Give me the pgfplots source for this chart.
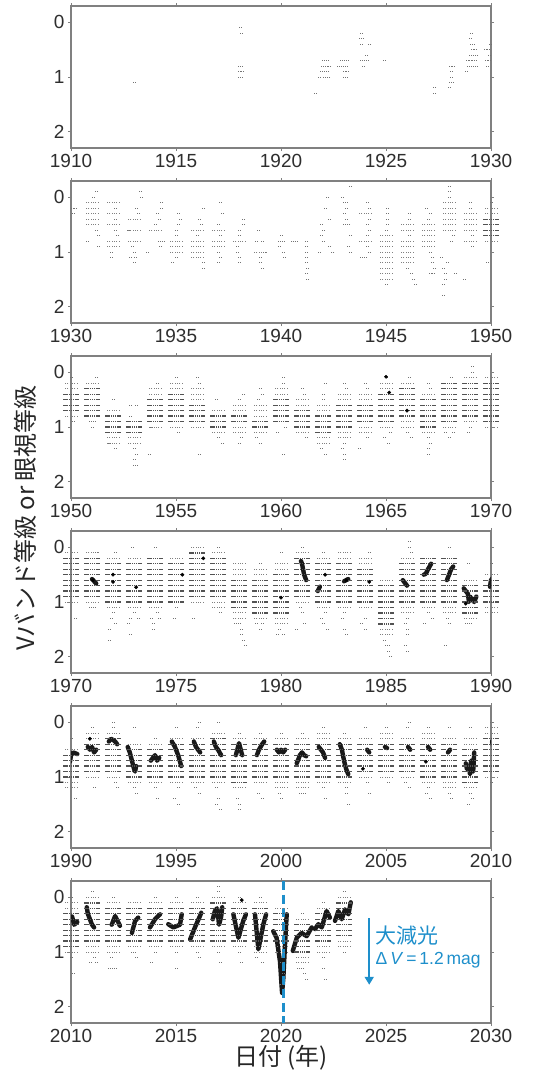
\documentclass[border=0pt]{standalone}
\usepackage{pgfplots}
\pgfplotsset{compat=1.18}
\usepackage{pgfplotstable}
\usetikzlibrary{plotmarks,arrows.meta}
\usepackage{fontspec}
\setmainfont{Liberation Sans}
\newfontfamily\jp{Noto Sans CJK JP}
\definecolor{frame}{HTML}{808080}
\definecolor{ablue}{HTML}{1E8FCB}
\definecolor{tk}{HTML}{2E2E2E}

% dense visual estimates (season centre, magnitude level)
\pgfplotstableread[row sep=\\]{x y\\
1950 .4\\1950 .5\\1950 .6\\1950 .7\\
1951 .3\\1951 .4\\1951 .5\\1951 .6\\1951 .7\\1951 .8\\
1952 .8\\1952 .9\\1952 1\\1952 1.1\\
1953 .9\\1953 1\\1953 1.1\\
1954 .5\\1954 .6\\1954 .7\\1954 .8\\1954 .9\\
1955 .4\\1955 .5\\1955 .6\\1955 .7\\1955 .8\\1955 .9\\
1956 .6\\1956 .7\\1956 .8\\1956 .9\\
1957 .8\\1957 .9\\1957 1\\
1958 .8\\1958 .9\\
1959 .9\\1959 1\\
1960 .5\\1960 .6\\1960 .7\\1960 .8\\1960 .9\\
1961 .7\\1961 .8\\1961 .9\\1961 1\\
1962 .8\\1962 .9\\1962 1\\1962 1.1\\
1963 .6\\1963 .7\\1963 .8\\1963 .9\\1963 1\\
1964 .6\\1964 .7\\1964 .8\\1964 .9\\
1965 .4\\1965 .5\\1965 .6\\1965 .7\\1965 .8\\1965 .9\\
1966 .3\\1966 .4\\1966 .5\\1966 .6\\1966 .7\\1966 .8\\
1967 .5\\1967 .6\\1967 .7\\1967 .8\\1967 .9\\1967 1\\
1968 .2\\1968 .3\\1968 .4\\1968 .5\\1968 .6\\1968 .7\\1968 .8\\1968 .9\\
1969 .2\\1969 .3\\1969 .4\\1969 .5\\1969 .6\\1969 .7\\1969 .8\\
1970 .2\\1970 .3\\1970 .4\\1970 .5\\1970 .6\\1970 .7\\1970 .8\\1970 .9\\
1971 .2\\1971 .3\\1971 .4\\1971 .5\\1971 .6\\1971 .7\\1971 .8\\1971 .9\\
1972 .3\\1972 .4\\1972 .5\\1972 .6\\1972 .7\\1972 .8\\1972 .9\\1972 1\\
1973 .3\\1973 .4\\1973 .5\\1973 .6\\1973 .7\\1973 .8\\1973 .9\\1973 1\\
1974 .2\\1974 .3\\1974 .4\\1974 .5\\1974 .6\\1974 .7\\1974 .8\\1974 .9\\1974 1\\
1975 .3\\1975 .4\\1975 .5\\1975 .6\\1975 .7\\1975 .8\\1975 .9\\1975 1\\
1976 .1\\1976 .2\\1976 .3\\1976 .4\\1976 .5\\1976 .6\\1976 .7\\1976 .8\\1976 .9\\
1977 .2\\1977 .3\\1977 .4\\1977 .5\\1977 .6\\1977 .7\\1977 .8\\1977 .9\\
1978 .6\\1978 .7\\1978 .8\\1978 .9\\1978 1\\1978 1.1\\
1979 .6\\1979 .7\\1979 .8\\1979 .9\\1979 1\\1979 1.1\\1979 1.2\\
1980 .5\\1980 .6\\1980 .7\\1980 .8\\1980 .9\\1980 1\\1980 1.1\\1980 1.2\\
1981 .2\\1981 .3\\1981 .4\\1981 .5\\1981 .6\\1981 .7\\1981 .8\\1981 .9\\
1982 .3\\1982 .4\\1982 .5\\1982 .6\\1982 .7\\1982 .8\\1982 .9\\1982 1\\
1983 .3\\1983 .4\\1983 .5\\1983 .6\\1983 .7\\1983 .8\\1983 .9\\1983 1\\
1984 .4\\1984 .5\\1984 .6\\1984 .7\\1984 .8\\1984 .9\\1984 1\\
1985 .7\\1985 .8\\1985 .9\\1985 1\\1985 1.1\\1985 1.2\\1985 1.3\\1985 1.4\\
1986 .3\\1986 .4\\1986 .5\\1986 .6\\1986 .7\\1986 .8\\1986 .9\\1986 1\\
1987 .2\\1987 .3\\1987 .4\\1987 .5\\1987 .6\\1987 .7\\1987 .8\\1987 .9\\1987 1\\
1988 .2\\1988 .3\\1988 .4\\1988 .5\\1988 .6\\1988 .7\\1988 .8\\1988 .9\\1988 1\\
1989 .7\\1989 .8\\1989 .9\\1989 1\\1989 1.1\\1989 1.2\\
1990 .6\\1990 .7\\1990 .8\\1990 .9\\1990 1\\
1991 .4\\1991 .5\\1991 .6\\1991 .7\\1991 .8\\1991 .9\\
1992 .3\\1992 .4\\1992 .5\\1992 .6\\1992 .7\\1992 .8\\1992 .9\\
1993 .5\\1993 .6\\1993 .7\\1993 .8\\1993 .9\\1993 1\\
1994 .5\\1994 .6\\1994 .7\\1994 .8\\1994 .9\\1994 1\\
1995 .4\\1995 .5\\1995 .6\\1995 .7\\1995 .8\\1995 .9\\1995 1\\
1996 .4\\1996 .5\\1996 .6\\1996 .7\\1996 .8\\1996 .9\\1996 1\\
1997 .3\\1997 .4\\1997 .5\\1997 .6\\1997 .7\\1997 .8\\1997 .9\\1997 1\\
1998 .4\\1998 .5\\1998 .6\\1998 .7\\1998 .8\\1998 .9\\1998 1\\1998 1.1\\
1999 .4\\1999 .5\\1999 .6\\1999 .7\\1999 .8\\1999 .9\\1999 1\\
2000 .4\\2000 .5\\2000 .6\\2000 .7\\2000 .8\\2000 .9\\2000 1\\
2001 .4\\2001 .5\\2001 .6\\2001 .7\\2001 .8\\2001 .9\\2001 1\\
2002 .4\\2002 .5\\2002 .6\\2002 .7\\2002 .8\\2002 .9\\2002 1\\
2003 .4\\2003 .5\\2003 .6\\2003 .7\\2003 .8\\2003 .9\\2003 1\\
2004 .4\\2004 .5\\2004 .6\\2004 .7\\2004 .8\\2004 .9\\
2005 .4\\2005 .5\\2005 .6\\2005 .7\\2005 .8\\2005 .9\\
2006 .4\\2006 .5\\2006 .6\\2006 .7\\2006 .8\\2006 .9\\
2007 .4\\2007 .5\\2007 .6\\2007 .7\\2007 .8\\2007 .9\\2007 1\\
2008 .4\\2008 .5\\2008 .6\\2008 .7\\2008 .8\\2008 .9\\2008 1\\
2009 .5\\2009 .6\\2009 .7\\2009 .8\\2009 .9\\2009 1\\2009 1.1\\
2010 .3\\2010 .4\\2010 .5\\2010 .6\\2010 .7\\2010 .8\\2010 .9\\
2011 .1\\2011 .2\\2011 .3\\2011 .4\\2011 .5\\2011 .6\\2011 .7\\2011 .8\\
2012 .2\\2012 .3\\2012 .4\\2012 .5\\2012 .6\\2012 .7\\2012 .8\\
2013 .2\\2013 .3\\2013 .4\\2013 .5\\2013 .6\\2013 .7\\2013 .8\\
2014 .2\\2014 .3\\2014 .4\\2014 .5\\2014 .6\\2014 .7\\2014 .8\\
2015 .2\\2015 .3\\2015 .4\\2015 .5\\2015 .6\\2015 .7\\2015 .8\\
2016 .2\\2016 .3\\2016 .4\\2016 .5\\2016 .6\\2016 .7\\2016 .8\\
2017 .1\\2017 .2\\2017 .3\\2017 .4\\2017 .5\\2017 .6\\2017 .7\\2017 .8\\
2018 .2\\2018 .3\\2018 .4\\2018 .5\\2018 .6\\2018 .7\\2018 .8\\
2019 .2\\2019 .3\\2019 .4\\2019 .5\\2019 .6\\2019 .7\\2019 .8\\
2020 .3\\2020 .4\\2020 .5\\2020 .6\\2020 .7\\2020 .8\\
2021 .5\\2021 .6\\2021 .7\\2021 .8\\2021 .9\\2021 1\\
2022 .3\\2022 .4\\2022 .5\\2022 .6\\2022 .7\\2022 .8\\
2023 .1\\2023 .2\\2023 .3\\2023 .4\\2023 .5\\2023 .6\\2023 .7\\
}\Dense

% medium-density levels
\pgfplotstableread[row sep=\\]{x y\\
1931 .1\\1931 .2\\1931 .3\\1931 .4\\1931 .5\\
1932 .1\\1932 .3\\1932 .5\\1932 .8\\1932 .9\\
1933 .4\\1933 .6\\1933 .8\\
1934 .6\\
1935 .8\\1935 .9\\1935 1\\
1936 .6\\1936 .8\\1936 .9\\1936 1\\1936 1.1\\
1937 .6\\1937 .8\\1937 .9\\
1938 .8\\
1939 1\\
1944 .3\\1944 .8\\
1945 .7\\1945 .8\\1945 .9\\1945 1\\1945 1.1\\1945 1.2\\1945 1.3\\1945 1.4\\1945 1.5\\
1946 .5\\1946 .6\\1946 .8\\1946 .9\\1946 1\\1946 1.1\\1946 1.2\\
1947 .5\\1947 .6\\1947 .7\\1947 .8\\1947 .9\\
1948 .1\\1948 .2\\1948 .3\\1948 .4\\1948 .5\\1948 .6\\
1949 .3\\1949 .4\\1949 .5\\1949 .6\\1949 .8\\
1950 .2\\1950 .3\\1950 .8\\
1951 .2\\
1952 .7\\1952 1.2\\1952 1.3\\
1953 1.2\\1953 1.3\\
1954 .3\\1954 .4\\1954 1\\
1955 .2\\1955 .3\\1955 1\\
1956 .3\\1956 .4\\1956 .5\\1956 1\\
1957 .7\\1957 1.1\\
1958 .6\\1958 .7\\1958 1\\1958 1.1\\
1959 .6\\1959 .7\\1959 .8\\1959 1.1\\
1960 .3\\1960 .4\\
1961 .5\\1961 .6\\1961 1.1\\
1962 .6\\1962 .7\\1962 1.2\\1962 1.3\\
1963 .4\\1963 .5\\1963 1.1\\1963 1.2\\
1964 .4\\1964 .5\\1964 1\\1964 1.1\\
1965 .2\\1965 .3\\1965 1\\
1966 .2\\1966 .9\\1966 1\\
1967 .4\\1967 1.1\\
1968 1\\
1969 .1\\1969 .9\\
1970 .1\\1970 1\\
1971 .1\\1971 1\\
1972 .2\\1972 1.1\\
1973 .2\\1973 1.1\\
1974 1.1\\
1975 .2\\
1976 0\\1976 1\\
1977 .1\\1977 1\\1977 1.1\\
1978 .3\\1978 .4\\1978 .5\\1978 1.2\\1978 1.3\\
1979 .4\\1979 .5\\1979 1.3\\
1980 .3\\1980 .4\\1980 1.3\\1980 1.4\\
1981 .1\\1981 1\\
1982 .2\\1982 1.1\\
1983 .1\\1983 .2\\1983 1.1\\
1984 .2\\1984 .3\\1984 1.1\\
1985 .6\\1985 1.5\\1985 1.6\\
1986 .2\\1986 1.1\\1986 1.2\\
1987 1.1\\
1988 1.1\\1988 1.2\\
1989 .6\\1989 1.3\\
1990 .5\\1990 1.1\\1990 1.2\\
1991 .2\\1991 .3\\1991 1\\
1992 .2\\1992 1\\
1993 .4\\1993 1.1\\
1994 .4\\1994 1.1\\
1995 .3\\1995 1.1\\
1996 .3\\1996 1.1\\
1997 .2\\1997 1.1\\
1998 .3\\1998 1.2\\
1999 .3\\1999 1.1\\
2000 .3\\2000 1.1\\2000 1.2\\
2001 .3\\2001 1.1\\2001 1.2\\
2002 .2\\2002 .3\\2002 1.1\\
2003 .3\\2003 1.1\\
2004 .3\\2004 1\\
2005 .2\\2005 .3\\2005 1\\
2006 .3\\2006 1\\
2007 .2\\2007 .3\\2007 1.1\\
2008 .3\\2008 1.1\\2008 1.2\\
2009 .3\\2009 .4\\2009 1.2\\
2010 .1\\2010 .2\\2010 1\\
2011 0\\2011 .9\\2011 1\\
2012 .1\\2012 .9\\2012 1\\
2013 .1\\2013 .9\\
2014 .1\\2014 .9\\
2015 .1\\2015 .9\\
2016 .1\\2016 .9\\
2017 0\\2017 .9\\
2018 .1\\2018 .9\\
2019 .1\\2019 .9\\2019 1\\
2020 .2\\2020 .9\\2020 1\\
2021 .4\\2021 1.1\\2021 1.2\\
2022 .2\\2022 .9\\2022 1\\
2023 0\\2023 .8\\2023 .9\\
}\Medium

% sparse single estimates (date, magnitude)
\pgfplotstableread[row sep=\\]{x y\\
1913 1.1\\
1918.05 .1\\1918.1 .2\\1918 .8\\1918.1 .8\\1918 .9\\1918.15 .9\\1918 1\\1918.1 1\\
1921.6 1.3\\
1921.8 1\\1921.9 .9\\1921.95 .8\\1922 .7\\1922.05 1\\1922.1 .9\\1922.15 .8\\1922.2 .7\\1922.2 .9\\1922.25 1\\1922.3 .8\\
1922.7 .8\\1922.85 .7\\1922.9 .8\\1923 .9\\1923 1\\1923.05 .7\\1923.1 .8\\1923.15 .9\\1923.15 .7\\1923.1 1\\
1923.75 .3\\1923.8 .4\\1923.8 .2\\1923.85 .3\\1923.8 .7\\1923.9 .8\\1924 .7\\1924.05 .6\\1924.1 .7\\1924.2 .4\\
1924.9 .7\\
1927.3 1.2\\1927.3 1.3\\
1928 1.2\\1928.05 .8\\1928.1 .9\\1928.1 1\\1928.15 1.1\\1928.2 .8\\1928.05 1.1\\
1928.8 .9\\1928.85 .7\\1928.9 .8\\1929 .6\\1929 .7\\1929.05 .2\\1929 .3\\1929.05 .4\\1929.1 .5\\1929.1 .6\\1929.15 .7\\1929.1 .8\\1929.2 .8\\1929.25 .5\\1929.3 .6\\1929.25 .7\\1929.3 .8\\1929.15 .4\\
1929.7 .5\\1929.75 .7\\1929.8 .8\\1929.85 .5\\1929.9 .6\\1929.95 .4\\1929.9 .7\\
1930.05 .2\\1930.1 .3\\1930.2 .2\\
1931.2 -.1\\1931.05 0\\1931.2 .6\\1930.75 .8\\1931.3 .9\\1931.3 .7\\
1932.1 .2\\1932.1 .4\\1932.1 .6\\1931.9 1\\1931.9 1.1\\1932.2 .7\\
1933.3 -.1\\1933.35 0\\1933.2 .3\\1933.1 .2\\1932.9 .9\\1933 1\\1932.8 1.1\\1933 1.2\\1933.05 1.1\\1932.7 .6\\
1934.3 .1\\1934.3 .2\\1934.1 .3\\1934.2 .4\\1934 .5\\1934.2 .8\\1934.25 .9\\1933.6 1\\1934.4 .8\\
1935.1 .3\\1935.2 .4\\1935.1 .5\\1935 .6\\1935 .7\\1935 1.1\\1934.8 1.2\\
1936.3 .2\\1936.1 .4\\1936.2 .5\\1936 .7\\1936.3 1.2\\1936.3 1.3\\
1937.1 .1\\1937.2 .3\\1937 .5\\1937.1 .7\\1937 1\\1937.1 1.1\\1937 1.2\\
1938.2 .4\\1938.2 .5\\1938 .6\\1938 .7\\1937.9 .9\\1937.9 1\\1938 1.1\\1938 1.2\\
1938.9 .6\\1938.8 .8\\1939 1.1\\1939 1.2\\1939.1 1.3\\1939.2 1\\1939.1 .8\\
1939.9 .8\\1940.1 .8\\1939.9 .9\\1940 .7\\1940.1 1\\1940.15 1.1\\1940.55 .8\\1940.7 .8\\
1941.2 .8\\1941.2 .9\\1941.2 1\\1941.2 1.1\\1941.2 1.2\\1941.25 1.3\\1941.2 1.4\\1941.25 1.5\\
1941.8 1\\1941.9 .5\\1942 .6\\1941.9 .7\\1942 .8\\1942.1 .2\\1942.2 0\\1942.3 .4\\1942.3 .9\\1942.45 1\\
1942.9 0\\1943 .1\\1943.1 .2\\1943 .3\\1943.1 .4\\1943 .5\\1943.2 .5\\1943.3 .7\\1943.2 .9\\1943.3 1\\1943.3 -.2\\1943.1 .1\\
1944.1 .1\\1944.2 .2\\1944.2 .4\\1944.1 .5\\1944.2 .6\\1944.1 .7\\1944.1 .9\\1944.2 1\\1943.8 1.1\\1944 1.1\\
1945 .6\\1945 1.6\\1945.05 .2\\1945.05 .3\\1945.05 .4\\1945.05 .5\\
1946.1 .3\\1946.1 .4\\1946.1 .7\\1946 1.3\\1946.2 1.4\\1946.3 1.5\\1946.4 1.6\\
1946.9 .2\\1947.1 .3\\1947 .4\\1947.1 1\\1947.2 1.1\\1947.2 1.2\\1947.3 1.3\\1947.1 1.4\\1947.25 1.4\\
1948 0\\1948 -.2\\1948 -.1\\1948.2 .7\\1948.1 .8\\1947.7 1.3\\1947.8 1.4\\1947.8 1.5\\1947.7 1.6\\1947.7 1.8\\1947.9 1.2\\1947.6 1.1\\1948.3 1.4\\
1949 .1\\1949 .2\\1949.1 .7\\1949.1 .9\\1948.7 1.5\\
1950 .1\\1949.8 1.2\\1950.1 .9\\
1951.2 .1\\1950.9 .9\\1951 1\\1951.1 .9\\
1952 .5\\1952.1 1.4\\1951.8 1.3\\
1952.8 .6\\1953.1 .6\\1953 1.4\\1953.1 1.5\\1953 1.6\\1953 1.7\\1953.1 1.7\\1952.8 .8\\
1954.1 .2\\1953.7 1.5\\1953.8 1\\
1955 .1\\1955.1 1.1\\
1956 .1\\1956.1 .2\\1956.1 1.5\\
1956.9 .5\\1957 1.2\\1957.2 1.3\\
1958.2 .4\\1958 .5\\1958.1 1.2\\1958 1.3\\
1959 .3\\1959.1 .4\\1958.8 1.2\\1959 1.3\\1958.9 .5\\
1960.1 .1\\1960.1 .2\\1960.2 1\\1960.1 1.5\\1959.8 1.1\\
1961 .3\\1961.1 .4\\1961.2 1.2\\
1962 .4\\1962.1 .2\\1961.9 1.4\\1962.1 1.5\\1962 .5\\
1963 .2\\1963.1 .3\\1963 1.3\\1962.9 1.4\\1963 1.5\\1963 1.6\\
1964 .2\\1964.1 .3\\1963.7 1.4\\1964.1 1.2\\
1965 .1\\1965.2 1.1\\1964.9 1.2\\1965.1 1.3\\
1966.1 .1\\1966 1.1\\1966.2 1.2\\
1967 .2\\1967.1 .3\\1967 1.2\\1967.1 1.3\\1967 1.4\\1967 1.5\\
1968.1 .1\\1967.8 1.1\\1968.2 1.1\\1968 1.2\\
1969.1 -.1\\1969.1 0\\1969 1\\1968.9 1.1\\
1970.2 1.3\\
1971.1 1.1\\1970.9 1.1\\1971.2 .1\\
1972.1 .1\\1972 1.2\\1971.9 1.3\\1972.1 1.4\\1971.8 1.5\\1971.8 1.7\\
1972.9 0\\1973 1.2\\1972.8 1.3\\1972.7 1.4\\1972.8 1.6\\1973.2 1.3\\
1974 0\\1973.8 1.3\\1973.9 1.4\\1973.9 1.5\\1974.2 1.3\\1974.1 1.2\\
1975 1.1\\1974.9 1.3\\
1975.8 1.3\\
1977 0\\1977.1 1.2\\
1978 1.4\\1978.1 1.5\\1978.1 1.6\\1978.2 1.7\\1978.3 1.8\\1977.8 1.4\\
1979 .3\\1978.8 1.4\\1979 1.5\\1979.1 1.4\\
1980 .1\\1979.9 1.5\\1980.1 1.6\\1979.8 1.6\\
1981 0\\1980.9 1.1\\1981 1.2\\1981.1 1.4\\1980.7 1.5\\
1982 .1\\1982.1 1.2\\1981.9 1.3\\1982 1.4\\1982.2 1.5\\
1983 1.2\\1982.9 1.3\\1983 1.5\\1983.1 1.6\\
1984.2 .1\\1984 1.3\\1983.8 1.4\\1984 1.5\\
1985 1.8\\1985.1 1.9\\1985.2 2\\1984.9 1.7\\1985.1 1.8\\
1986.1 -.1\\1986.1 0\\1986.2 .1\\1986 1.3\\1985.9 1.4\\1986 1.5\\1986 1.6\\1985.9 1.8\\1986 1.9\\
1987 1.2\\1986.8 1.4\\1987.2 1.3\\
1988 0\\1987.9 1.3\\1988 1.4\\1987.8 1.8\\
1988.9 .3\\1989 1.4\\1988.8 1.4\\
1990.2 1.4\\1990 .3\\
1991 .1\\1991.1 1.2\\
1992 0\\1992 .1\\1992.1 1.1\\1992.2 1.2\\
1993 .1\\1993 1.2\\1993.1 1.3\\
1994 .3\\1994 1.2\\1994.1 1.4\\
1995 .1\\1995.1 1.2\\1994.9 1.4\\1995.1 1.5\\
1996 .1\\1996.1 0\\1995.9 1.2\\1996.1 1.3\\
1997 0\\1996.9 1.2\\1997 1.4\\1996.9 1.5\\1997.1 1.6\\
1998 .2\\1997.9 1.4\\1998 1.5\\1998 1.6\\
1999 .2\\1998.9 1.3\\1999.1 1.4\\
2000 .2\\1999.9 1.3\\2000 1.4\\
2001 .2\\2001.1 1.3\\2000.9 1.3\\
2002 .1\\2002 1.2\\2002.1 1.4\\
2003 .2\\2003.1 1.2\\2003.1 1.3\\2003.2 1.5\\
2004 .1\\2004.1 1.1\\2004.2 1.3\\
2005 .1\\2005.1 1.1\\
2006.1 0\\2006 .1\\2005.9 1.1\\2006.1 1.2\\
2007 .1\\2007 1.2\\2007.1 1.4\\2006.9 1.3\\
2008 .1\\2008 1.3\\2008.1 1.4\\
2009 .1\\2009 1.3\\2009.1 1.4\\2008.9 1.5\\
2010 0\\2010 1.1\\2010.1 1.4\\
2011 -.1\\2011.1 1.1\\2011.2 1.2\\2010.9 1.2\\
2012 0\\2011.9 1.1\\2011.8 1.3\\2012 1.3\\2012.1 1.3\\
2013 1\\2013.1 1.1\\2012.9 1\\
2014 0\\2014 1\\2013.8 1.2\\
2015 0\\2015 1\\2015 1.3\\
2016 0\\2016 1\\2016.1 1.1\\
2017 -.2\\2017 -.1\\2017 1\\2017.1 1.2\\
2018 0\\2018 1\\2018.1 1.2\\
2019 0\\2018.8 1.1\\2019.1 1.2\\
2020 1.2\\2020.1 1.4\\2020 1.6\\
2021 .3\\2021 1.3\\2021.1 1.4\\2021.2 1.5\\2020.8 1.3\\
2022 .1\\2022 1.1\\2022 1.3\\2022.1 1.5\\
2023 -.1\\2023 1\\
}\Sparse

% photoelectric V-band points
\pgfplotstableread[row sep=\\]{x y\\
1965 .08\\1965.15 .37\\1966 .7\\1971.05 .6\\1972 .5\\1972 .63\\1973.1 .73\\1975.3 .5\\1976.3 .2\\1980 .92\\1982.1 .5\\1983.1 .6\\1984.2 .63\\1988.8 1.03\\1990.9 .3\\2003.9 .85\\2006.9 .72\\2018.13 .05\\
}\Vdots

% photoelectric V-band runs
\pgfplotstableread[row sep=\\]{x y\\
1971 .58\\1971.1 .62\\1971.2 .66\\nan nan\\
1980.95 .25\\1981 .3\\1981.05 .4\\1981.1 .5\\1981.2 .6\\nan nan\\
1981.75 .8\\1981.85 .72\\nan nan\\
1983 .62\\1983.2 .58\\nan nan\\
1985.8 .6\\1985.9 .65\\1986 .7\\nan nan\\
1986.8 .5\\1986.9 .48\\1987 .4\\1987.15 .3\\nan nan\\
1987.9 .6\\1988 .5\\1988.1 .4\\1988.2 .35\\nan nan\\
1988.7 .75\\1988.8 .8\\1988.9 .85\\1988.95 1\\1989 .9\\1989.1 .95\\1989.2 1\\1989.3 .9\\nan nan\\
1989.95 .72\\1990 .6\\1990.1 .55\\1990.3 .58\\nan nan\\
1990.8 .45\\1990.9 .5\\1991 .45\\1991.1 .55\\1991.2 .5\\nan nan\\
1991.8 .35\\1991.9 .3\\1992 .32\\1992.1 .35\\1992.2 .4\\nan nan\\
1992.7 .45\\1992.8 .55\\1992.9 .7\\1993 .85\\1993.05 .9\\1993.1 .8\\nan nan\\
1993.8 .7\\1993.9 .65\\1994 .6\\1994.1 .7\\1994.2 .65\\nan nan\\
1994.8 .35\\1994.95 .45\\1995.1 .6\\1995.25 .8\\nan nan\\
1995.85 .35\\1995.95 .45\\1996.05 .5\\1996.15 .55\\nan nan\\
1996.8 .35\\1996.9 .45\\1997 .5\\1997.15 .6\\nan nan\\
1997.85 .6\\1998 .38\\1998.15 .6\\nan nan\\
1998.85 .6\\1998.95 .5\\1999.1 .4\\1999.2 .35\\nan nan\\
1999.8 .5\\1999.9 .55\\2000 .5\\2000.1 .55\\2000.2 .5\\nan nan\\
2000.75 .75\\2000.9 .6\\2001 .55\\2001.1 .6\\2001.2 .62\\nan nan\\
2001.8 .45\\2001.9 .5\\2002 .55\\2002.1 .65\\nan nan\\
2002.8 .4\\2002.9 .5\\2003 .7\\2003.1 .85\\2003.2 .95\\nan nan\\
2004.1 .5\\2004.2 .55\\nan nan\\
2004.95 .45\\2005.05 .47\\nan nan\\
2006.05 .45\\2006.15 .5\\nan nan\\
2007 .45\\2007.1 .5\\nan nan\\
2007.95 .55\\2008.05 .5\\nan nan\\
2008.8 .75\\2008.85 .85\\2008.95 .8\\2009 .95\\2009.05 .7\\2009.15 .9\\2009.2 .55\\nan nan\\
2010.05 .35\\2010.15 .5\\2010.3 .45\\nan nan\\
2010.75 .18\\2010.8 .3\\2011 .5\\2011.1 .55\\nan nan\\
2011.94 .5\\2012.1 .34\\2012.33 .52\\nan nan\\
2012.9 .65\\2013.05 .43\\2013.2 .37\\nan nan\\
2013.76 .55\\2014 .4\\2014.24 .31\\nan nan\\
2014.63 .49\\2014.87 .55\\2015.19 .5\\2015.27 .31\\nan nan\\
2015.67 .77\\2015.9 .55\\2016.14 .34\\2016.2 .28\\nan nan\\
2016.75 .4\\2016.85 .25\\2016.95 .2\\2017.05 .5\\2017.15 .35\\2017.2 .18\\nan nan\\
2017.73 .31\\2017.97 .74\\2018.2 .43\\2018.33 .31\\nan nan\\
2018.76 .31\\2018.92 .95\\2019.16 .49\\2019.29 .31\\nan nan\\
2019.63 .62\\2019.79 .74\\2019.95 1.17\\2020.05 1.75\\2020.11 1.48\\2020.19 .86\\2020.27 .31\\nan nan\\
2020.56 .98\\2020.75 .74\\2020.98 .65\\2021.22 .71\\2021.46 .55\\nan nan\\
2021.62 .58\\2021.78 .49\\2021.94 .55\\2022.17 .25\\2022.33 .37\\nan nan\\
2022.57 .43\\2022.73 .25\\2022.89 .4\\2023.05 .22\\2023.21 .31\\2023.32 .09\\
}\Vrun

\pgfplotsset{panelstyle/.style={
  anchor=north west, scale only axis, width=420pt, height=142pt,
  ymin=-0.3, ymax=2.3, y dir=reverse, ytick={0,1,2}, xtick distance=5,
  scaled x ticks=false, minor tick num=0,
  tick align=outside, major tick length=3pt,
  tick style={color=frame, line width=0.8pt},
  axis line style={color=frame, line width=1.1pt},
  ticklabel style={font=\fontsize{19}{19}\selectfont, text=tk},
  /pgf/number format/assume math mode=true,
  /pgf/number format/1000 sep={},
  unbounded coords=jump,
}}

\newcommand\panel[4]{%
\begin{axis}[panelstyle, at={(71pt,#1pt)}, xmin=#2, xmax=#3]
\addplot[only marks, mark=-, mark size=6.5pt, mark options={black!50, line width=1pt, dash pattern=on 0.9pt off 1.4pt}] table {\Medium};
\addplot[only marks, mark=-, mark size=7.8pt, mark options={black!68, line width=1.3pt, dash pattern=on 1.5pt off 0.7pt}] table {\Dense};
\addplot[only marks, mark=-, mark size=1.8pt, mark options={black!55, line width=1pt, dash pattern=on 0.9pt off 1.1pt}] table {\Sparse};
\addplot[black!90, line width=4.4pt, line cap=round, line join=round] table {\Vrun};
\addplot[only marks, mark=*, mark size=1.7pt, black] table {\Vdots};
#4
\end{axis}}

\begin{document}
\begin{tikzpicture}[x=1pt,y=1pt]
\useasboundingbox (0,0) rectangle (536,-1073);
\panel{-6}{1910}{1930}{}
\panel{-181}{1930}{1950}{}
\panel{-356}{1950}{1970}{}
\panel{-531}{1970}{1990}{}
\panel{-706}{1990}{2010}{}
\panel{-881}{2010}{2030}{%
\addplot[ablue, line width=3pt, dash pattern=on 9pt off 4.5pt] coordinates {(2020.1,-0.3) (2020.1,2.3)};
\draw[ablue, line width=2pt, -{Triangle[length=8pt,width=9pt]}] (axis cs:2024.2,0.38) -- (axis cs:2024.2,1.6);
\node[anchor=west, text=ablue, font=\jp\fontsize{21}{21}\selectfont, inner sep=0pt] at (axis cs:2024.5,0.7) {大減光};
\node[anchor=west, text=ablue, font=\fontsize{17.5}{17.5}\selectfont, inner sep=0pt] at (axis cs:2024.5,1.15) {Δ\,\textit{V}\,=\,1.2\,mag};
}
\node[rotate=90, font=\jp\fontsize{24}{24}\selectfont, text=black!85] at (25,-518) {Vバンド等級 or 眼視等級};
\node[font=\jp\fontsize{24}{24}\selectfont, text=black!85] at (281,-1058) {日付 (年)};
\end{tikzpicture}
\end{document}
